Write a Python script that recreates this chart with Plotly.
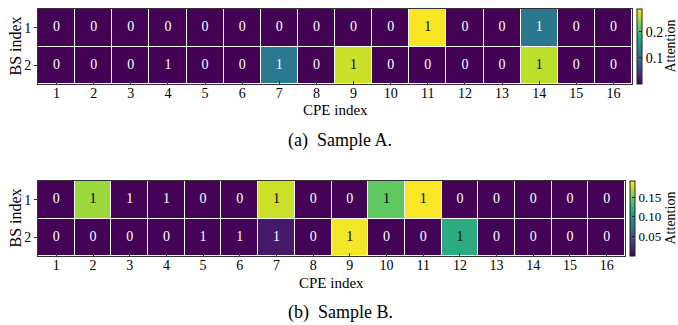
import plotly.graph_objects as go

cpe_index = list(range(1, 17))
bs_index = [1, 2]

# Sample A: binary labels (cell text) and attention weights (colour)
labels_a = [
    [0, 0, 0, 0, 0, 0, 0, 0, 0, 0, 1, 0, 0, 1, 0, 0],
    [0, 0, 0, 1, 0, 0, 1, 0, 1, 0, 0, 0, 0, 1, 0, 0],
]
attn_a = [
    [0.001, 0.001, 0.001, 0.001, 0.001, 0.001, 0.001, 0.001, 0.001, 0.001, 0.285, 0.001, 0.001, 0.114, 0.001, 0.001],
    [0.001, 0.001, 0.001, 0.001, 0.001, 0.001, 0.116, 0.001, 0.265, 0.001, 0.001, 0.001, 0.001, 0.257, 0.001, 0.001],
]

# Sample B
labels_b = [
    [0, 1, 1, 1, 0, 0, 1, 0, 0, 1, 1, 0, 0, 0, 0, 0],
    [0, 0, 0, 0, 1, 1, 1, 0, 1, 0, 0, 1, 0, 0, 0, 0],
]
attn_b = [
    [0.001, 0.162, 0.001, 0.001, 0.001, 0.001, 0.177, 0.001, 0.001, 0.143, 0.190, 0.001, 0.001, 0.001, 0.001, 0.001],
    [0.001, 0.001, 0.001, 0.001, 0.001, 0.001, 0.013, 0.001, 0.188, 0.001, 0.001, 0.118, 0.001, 0.001, 0.001, 0.001],
]

zmax_a = 0.287
zmax_b = 0.191
cbar_ticks_a = [0.1, 0.2]
cbar_text_a = ["0.1", "0.2"]
cbar_ticks_b = [0.05, 0.10, 0.15]
cbar_text_b = ["0.05", "0.10", "0.15"]

FONT = "Liberation Serif"
W, H = 678, 325


def px_x(p):
    return p / W


def px_y(p):
    return 1 - p / H


fig = go.Figure()


def note(text, x, y, size, angle=0):
    fig.add_annotation(text=text, x=px_x(x), y=px_y(y), xref="paper", yref="paper",
                       xanchor="center", yanchor="middle", showarrow=False,
                       textangle=angle, font=dict(family=FONT, size=size, color="black"))


def add_panel(idx, labels, attn, zmax, ticks, ticktext, cb_font, box, cb_x, title_y, caption, cap_y):
    left, right, top, bottom = box
    xa = "x" if idx == 1 else "x%d" % idx
    ya = "y" if idx == 1 else "y%d" % idx
    fig.add_trace(go.Heatmap(
        z=attn, x=cpe_index, y=bs_index, zmin=0, zmax=zmax,
        colorscale="Viridis", xgap=1, ygap=1, xaxis=xa, yaxis=ya,
        hoverinfo="skip",
        colorbar=dict(
            x=px_x(cb_x), xanchor="left", y=px_y((top + bottom) / 2), yanchor="middle",
            len=bottom - top, lenmode="pixels", thickness=5, thicknessmode="pixels",
            outlinewidth=1, outlinecolor="#222",
            tickvals=ticks, ticktext=ticktext, ticks="inside", ticklen=3,
            tickcolor="#222", tickfont=dict(family=FONT, size=cb_font, color="black"),
            xpad=0, ypad=0,
        ),
    ))
    xs, ys, ts, cs = [], [], [], []
    for r, bs in enumerate(bs_index):
        for c, cpe in enumerate(cpe_index):
            xs.append(cpe)
            ys.append(bs)
            ts.append(str(labels[r][c]))
            cs.append("black" if attn[r][c] / zmax > 0.5 else "white")
    fig.add_trace(go.Scatter(
        x=xs, y=ys, text=ts, mode="text", xaxis=xa, yaxis=ya,
        textfont=dict(family=FONT, size=14, color=cs),
        hoverinfo="skip", showlegend=False,
    ))
    axis_common = dict(showline=True, linecolor="#333", linewidth=1, mirror=True,
                       showgrid=False, zeroline=False, automargin=False,
                       tickfont=dict(family=FONT, size=14, color="black"))
    fig.layout["xaxis" if idx == 1 else "xaxis%d" % idx] = dict(
        domain=[px_x(left), px_x(right)], anchor=ya, range=[0.5, 16.5],
        tickvals=cpe_index, ticks="inside", ticklen=3, tickcolor="#333",
        ticklabelstandoff=-4,
        **axis_common)
    fig.layout["yaxis" if idx == 1 else "yaxis%d" % idx] = dict(
        domain=[px_y(bottom), px_y(top)], anchor=xa, range=[2.5, 0.5],
        tickvals=bs_index, ticks="outside", ticklen=3, tickcolor="#333",
        **axis_common)
    # axis titles, colorbar title and caption
    note("CPE index", (left + right) / 2, title_y, 15)
    note("BS index", 15, (top + bottom) / 2, 16, -90)
    note("Attention", 670, (top + bottom) / 2, 14, -90)
    note(caption, 340, cap_y, 18)


add_panel(1, labels_a, attn_a, zmax_a, cbar_ticks_a, cbar_text_a, 14,
          (38, 632, 9, 84), 637, 110, "(a)  Sample A.", 140)
add_panel(2, labels_b, attn_b, zmax_b, cbar_ticks_b, cbar_text_b, 13,
          (38, 625, 181, 256), 630, 283, "(b)  Sample B.", 312)

fig.update_layout(width=W, height=H,
                  margin=dict(l=0, r=0, t=0, b=0, pad=0, autoexpand=False),
                  plot_bgcolor="white", paper_bgcolor="white", showlegend=False)

fig.write_html("out.html", config={"displayModeBar": False},
               post_script="document.body.style.margin='0px';"
                           "document.body.style.overflow='hidden';")
